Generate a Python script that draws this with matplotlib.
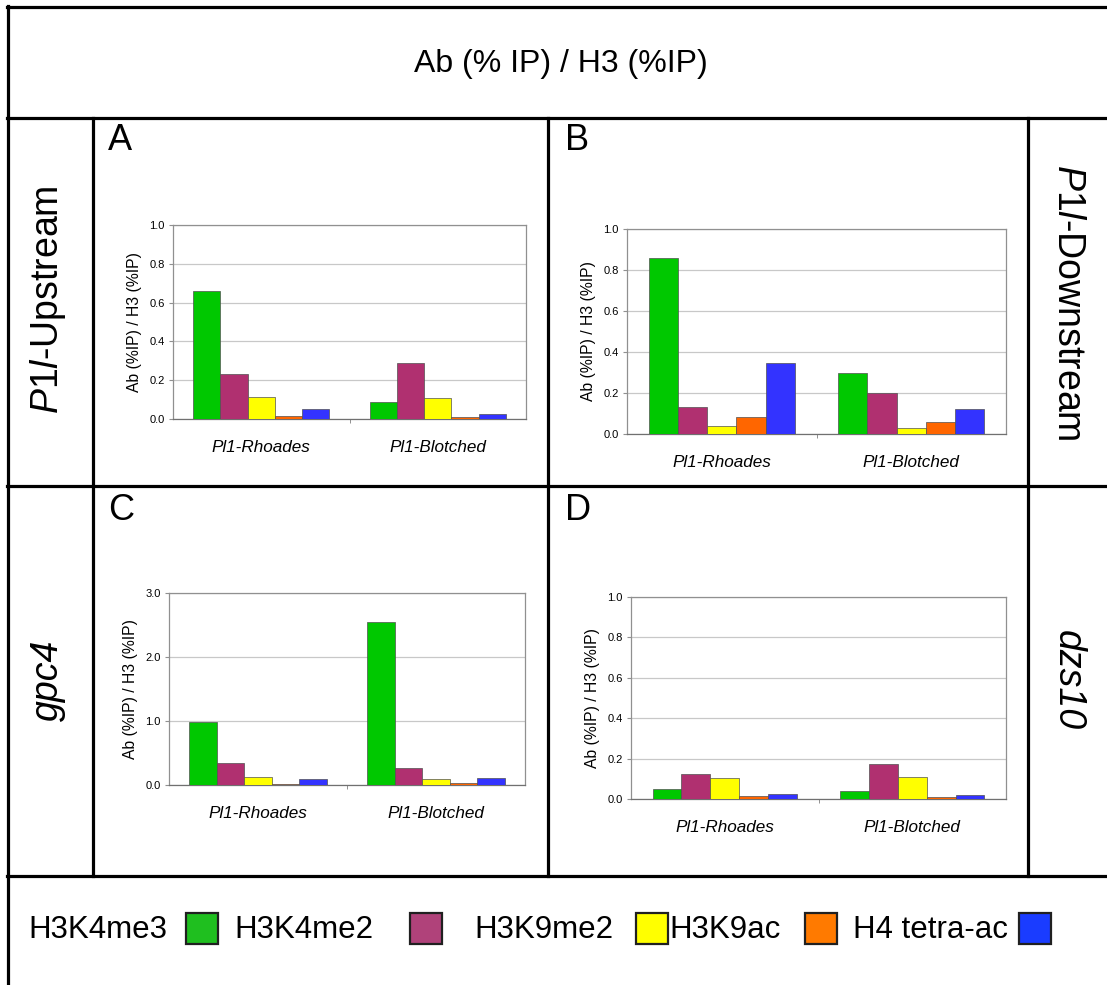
import numpy as np
import matplotlib
matplotlib.use("Agg")
import matplotlib.pyplot as plt
from matplotlib.lines import Line2D
from matplotlib.patches import Rectangle
from matplotlib.ticker import FormatStrFormatter

plt.rcParams['font.family'] = ['Liberation Sans', 'DejaVu Sans']
plt.rcParams['mathtext.fontset'] = 'custom'
plt.rcParams['mathtext.rm'] = 'Liberation Sans'
plt.rcParams['mathtext.it'] = 'Liberation Sans:italic'

# data
categories = ['Pl1-Rhoades', 'Pl1-Blotched']
marks = ['H3K4me3', 'H3K4me2', 'H3K9me2', 'H3K9ac', 'H4 tetra-ac']
bar_colors = ['#00c800', '#b03070', '#ffff00', '#ff6600', '#3333ff']
legend_colors = ['#1fbf1f', '#b0427a', '#ffff00', '#ff7a00', '#1a3cff']

# rows = marks, columns = categories
panel_a = [[0.66, 0.09], [0.234, 0.287], [0.115, 0.11], [0.017, 0.012], [0.05, 0.026]]
panel_b = [[0.86, 0.298], [0.132, 0.202], [0.037, 0.028], [0.083, 0.057], [0.347, 0.12]]
panel_c = [[0.99, 2.55], [0.344, 0.26], [0.12, 0.089], [0.016, 0.03], [0.10, 0.115]]
panel_d = [[0.048, 0.04], [0.125, 0.173], [0.104, 0.11], [0.015, 0.01], [0.025, 0.02]]

W, H = 1107, 985
fig = plt.figure(figsize=(W / 100, H / 100), dpi=100)


def fx(x):
	return x / W


def fy(y):
	return 1 - y / H


def hline(y, x0, x1):
	fig.add_artist(Line2D([fx(x0), fx(x1)], [fy(y), fy(y)], color='black', lw=2.3))


def vline(x, y0, y1):
	fig.add_artist(Line2D([fx(x), fx(x)], [fy(y0), fy(y1)], color='black', lw=2.3))


# table grid
hline(7, 7, W)
hline(118, 7, W)
hline(486, 7, W)
hline(876, 7, W)
vline(8, 6, H)
vline(93, 118, 876)
vline(548, 118, 876)
vline(1028, 118, 876)

fig.text(fx(561), fy(64), 'Ab (% IP) / H3 (%IP)', fontsize=23, ha='center', va='center')

# row labels
fig.text(fx(48), fy(300), r'$\mathit{P1l}$-Upstream', fontsize=27, rotation=90, ha='center', va='center')
fig.text(fx(1068), fy(302), r'$\mathit{P1l}$-Downstream', fontsize=27, rotation=270, ha='center', va='center')
fig.text(fx(48), fy(680), 'gpc4', fontsize=27, fontstyle='italic', rotation=90, ha='center', va='center')
fig.text(fx(1068), fy(680), 'dzs10', fontsize=27, fontstyle='italic', rotation=270, ha='center', va='center')

for letter, x, y in [('A', 108, 140), ('B', 565, 140), ('C', 108, 510), ('D', 565, 510)]:
	fig.text(fx(x), fy(y), letter, fontsize=26, ha='left', va='center')


def draw_panel(box, values, ymax, step):
	l, t, r, b = box
	ax = fig.add_axes([fx(l), fy(b), (r - l) / W, (b - t) / H])
	x = np.arange(len(categories))
	w = 0.154
	for i, (vals, c) in enumerate(zip(values, bar_colors)):
		ax.bar(x + (i - 2) * w, vals, width=w, color=c, edgecolor='#505050', linewidth=0.5, zorder=3)
	ax.set_xlim(-0.5, 1.5)
	ax.set_ylim(0, ymax)
	ax.set_yticks(np.arange(0, ymax + step / 2, step))
	ax.yaxis.set_major_formatter(FormatStrFormatter('%.1f'))
	ax.yaxis.grid(True, color='#c8c8c8', lw=0.9)
	ax.set_axisbelow(True)
	for s in ax.spines.values():
		s.set_color('#909090')
		s.set_linewidth(0.9)
	ax.spines['bottom'].set_color('#707070')
	ax.set_xticks(x)
	ax.set_xticklabels(categories, fontstyle='italic', fontsize=12.3)
	ax.set_xticks([0.5], minor=True)
	ax.tick_params(axis='x', which='major', length=0, pad=15)
	ax.tick_params(axis='x', which='minor', length=3, color='#808080')
	ax.tick_params(axis='y', length=3, color='#909090', labelsize=8, pad=3)
	ax.set_ylabel('Ab (%IP) / H3 (%IP)', fontsize=11.3, labelpad=5)
	return ax


draw_panel((173, 225, 526, 419), panel_a, 1.0, 0.2)
draw_panel((627, 229, 1006, 434), panel_b, 1.0, 0.2)
draw_panel((169, 593, 525, 785), panel_c, 3.0, 1.0)
draw_panel((631, 597, 1006, 799), panel_d, 1.0, 0.2)

# legend row
text_x = [28, 234, 474, 669, 853]
box_x = [186, 410, 636, 805, 1019]
for name, tx, bx, c in zip(marks, text_x, box_x, legend_colors):
	fig.text(fx(tx), fy(930), name, fontsize=22.5, ha='left', va='center')
	fig.add_artist(Rectangle((fx(bx), fy(944)), 32 / W, 31 / H, facecolor=c,
		edgecolor='#202020', lw=1.6, transform=fig.transFigure))

fig.savefig('out.png', dpi=100)
